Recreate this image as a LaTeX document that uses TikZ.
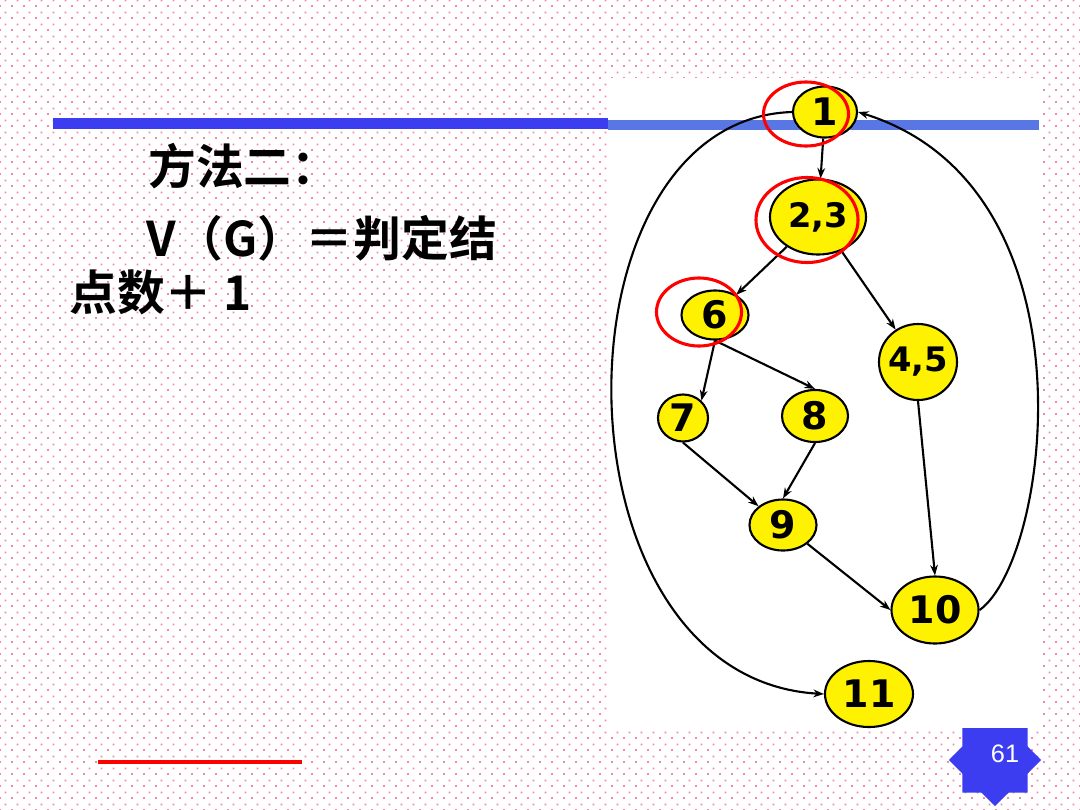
\documentclass[tikz,border=0pt]{standalone}
\usepackage{fontspec}
\newfontfamily\cjk{Noto Sans CJK SC}[UprightFont=* Bold]
\newfontfamily\numfont{DejaVu Sans}
\newfontfamily\pagefont{Liberation Sans}
\usetikzlibrary{arrows.meta, shapes.geometric, patterns}

\definecolor{barblue}{RGB}{60,60,240}
\definecolor{picblue}{RGB}{88,118,228}
\definecolor{dotpink}{RGB}{240,140,170}

% pink dotted slide background
\pgfdeclarepatternformonly{pinkdots}{\pgfqpoint{0pt}{0pt}}{\pgfqpoint{8.536pt}{8.536pt}}{\pgfqpoint{8.536pt}{8.536pt}}{%
  \pgfpathrectangle{\pgfqpoint{0pt}{0pt}}{\pgfqpoint{1.4pt}{1.4pt}}%
  \pgfpathrectangle{\pgfqpoint{4.268pt}{4.268pt}}{\pgfqpoint{1.4pt}{1.4pt}}%
  \pgfusepath{fill}}

\begin{document}
\begin{tikzpicture}[x=0.025cm, y=-0.025cm, >={Stealth[length=7.5pt, width=5.5pt]},
  blob/.style={ellipse, draw, line width=1.5pt, fill=yellow, inner sep=0pt,
    font=\numfont\bfseries\fontsize{27}{30}\selectfont},
  pair/.style={font=\numfont\bfseries\fontsize{24}{28}\selectfont},
  ring/.style={ellipse, draw=red, line width=2.2pt, inner sep=0pt},
  edge/.style={->, line width=1.5pt},
  textline/.style={font=\cjk\fontsize{34}{40}\selectfont, anchor=base west, inner sep=0pt}]

\useasboundingbox (0,0) rectangle (1080,810);
\fill[white] (0,0) rectangle (1080,810);
\fill[pattern=pinkdots, pattern color=dotpink] (0,0) rectangle (1080,810);

% page number badge, partly under the picture
\node[star, star points=8, star point ratio=1.3, fill=barblue, minimum size=2.3cm, inner sep=0pt] (badge) at (995,760) {};

% white picture area
\fill[white] (607,78) rectangle (1039,728);

% title bars
\fill[barblue] (53,118) rectangle (608,129);
\fill[picblue] (608,120) rectangle (1039,130);
\draw[red, line width=2.4pt] (98,762) -- (302,762);

% text on the left
\node[textline] (t1) at (148,184) {方法二：};
\node[textline] (t2) at (146,256) {V（G）＝判定结};
\node[textline] (t3) at (69,310) {点数＋ 1};

% flow graph nodes
\node[blob, minimum width=1.6cm, minimum height=1.275cm] (n1) at (825,112) {1};
\node[blob, pair, minimum width=2.4cm, minimum height=1.875cm] (n23) at (818,217) {2,3};
\node[blob, minimum width=1.675cm, minimum height=1.225cm] (n6) at (715,315) {6};
\node[blob, pair, inner xsep=-4pt, minimum width=1.95cm, minimum height=1.9cm] (n45) at (918,362) {4,5};
\node[blob, minimum width=1.25cm, minimum height=1.175cm] (n7) at (683,418) {7};
\node[blob, minimum width=1.65cm, minimum height=1.3cm] (n8) at (815,416) {8};
\node[blob, minimum width=1.675cm, minimum height=1.275cm] (n9) at (783,525) {9};
\node[blob, minimum width=2.175cm, minimum height=1.675cm] (n10) at (935,610) {10};
\node[blob, minimum width=2.2cm, minimum height=1.65cm] (n11) at (869,694) {11};

% edges
\draw[edge] (n1) -- (n23);
\draw[edge] (n23) -- (n6);
\draw[edge] (n23) -- (n45);
\draw[edge] (n6.south) -- (n7.north east);
\draw[edge] (n6.south) -- (n8.north);
\draw[edge] (n7.south) -- (n9.north west);
\draw[edge] (n8.south) -- (n9.north);
\draw[edge] (n9.south east) -- (n10.west);
\draw[edge] (n45.south) -- (n10.north);
\draw[edge] (n10.east) .. controls (1050,560) and (1100,187) .. (n1.east);
\draw[edge] (n1.west) .. controls (547,120) and (547,678) .. (n11.west);

% red rings round the decision nodes
\node[ring, minimum width=2.125cm, minimum height=1.6cm] (r1) at (806,114) {};
\node[ring, minimum width=2.55cm, minimum height=2.125cm] (r23) at (807,220) {};
\node[ring, minimum width=2.125cm, minimum height=1.7cm] (r6) at (699,312) {};

\node[white, font=\pagefont\fontsize{18}{20}\selectfont] (pg) at (1005,754) {61};

\end{tikzpicture}
\end{document}
